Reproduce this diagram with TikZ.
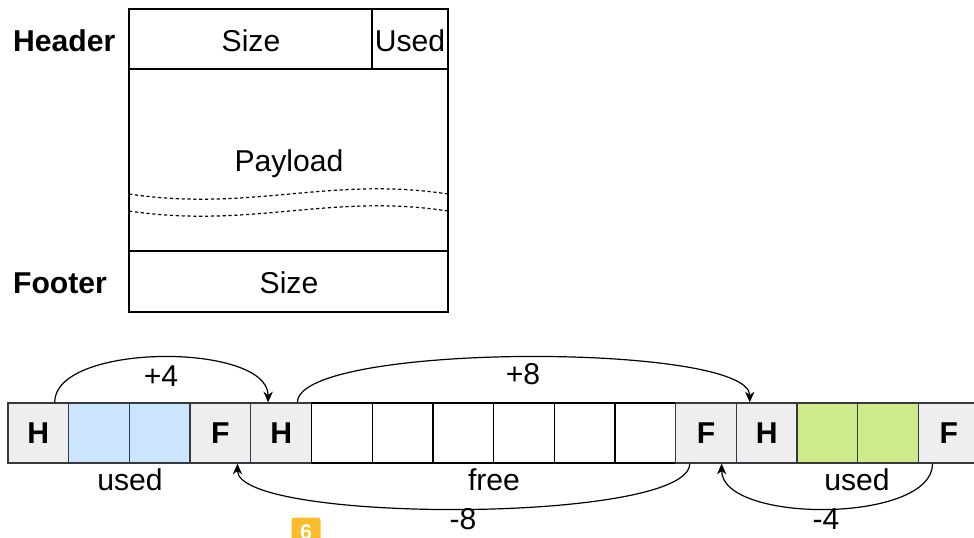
\documentclass[tikz,border=0pt]{standalone}
\usepackage{fontspec}
\setmainfont{Liberation Sans}
\usetikzlibrary{arrows.meta}
\definecolor{cellgrey}{HTML}{EEEEEE}
\definecolor{cellline}{HTML}{36393D}
\definecolor{usedblue}{HTML}{CCE5FF}
\definecolor{usedgreen}{HTML}{CDEB8B}
\definecolor{badgeorange}{HTML}{FBBC2C}
\begin{document}
\begin{tikzpicture}[x=0.75pt,y=-0.75pt,line width=1pt,
  every node/.style={font=\fontsize{22.6}{26}\selectfont},
  field/.style={draw,inner sep=0pt},
  cell/.style={draw=cellline,minimum width=45.5pt,minimum height=45pt,inner sep=0pt},
  tagcell/.style={cell,fill=cellgrey,font=\fontsize{22.6}{26}\selectfont\bfseries},
  bluecell/.style={cell,fill=usedblue},
  greencell/.style={cell,fill=usedgreen},
  freecell/.style={cell,draw=black},
  hop/.style={-{Stealth[length=8pt,width=7pt,inset=2.5pt]},line width=0.9pt}]
\useasboundingbox (0,0) rectangle (974,537);
% block layout
\node[font=\fontsize{22.6}{26}\selectfont\bfseries,anchor=west] (hdr) at (8,41) {Header};
\node[font=\fontsize{22.6}{26}\selectfont\bfseries,anchor=west] (ftr) at (8,283) {Footer};
\node[field,minimum width=182.25pt,minimum height=45pt] (hsize) at (250.5,39) {};
\node[field,minimum width=57pt,minimum height=45pt] (hused) at (410,39) {};
\node[field,minimum width=239.25pt,minimum height=136.5pt] (pay) at (288.5,160) {};
\node[field,minimum width=239.25pt,minimum height=45.75pt] (fsize) at (288.5,281.5) {};
\node (hsizetxt) at (251,40.5) {Size};
\node (husedtxt) at (410,40.5) {Used};
\node (paytxt) at (289,163.5) {Payload};
\node (fsizetxt) at (289,283) {Size};
\draw[dash pattern=on 2.4pt off 2pt,line width=0.9pt] (129,194) .. controls (250,212) and (330,176) .. (448,194);
\draw[dash pattern=on 2.4pt off 2pt,line width=0.9pt] (129,211) .. controls (250,229) and (330,193) .. (448,211);
% heap row
\node[tagcell] (h1) at (38.35,433) {H};
\node[bluecell] (u1) at (99.05,433) {};
\node[bluecell] (u2) at (159.75,433) {};
\node[tagcell] (f1) at (220.45,433) {F};
\node[tagcell] (h2) at (281.15,433) {H};
\node[freecell] (e1) at (341.85,433) {};
\node[freecell] (e2) at (402.55,433) {};
\node[freecell] (e3) at (463.25,433) {};
\node[freecell] (e4) at (523.95,433) {};
\node[freecell] (e5) at (584.65,433) {};
\node[freecell] (e6) at (645.35,433) {};
\node[tagcell] (f2) at (706.05,433) {F};
\node[tagcell] (h3) at (766.75,433) {H};
\node[greencell] (u3) at (827.45,433) {};
\node[greencell] (u4) at (888.15,433) {};
\node[tagcell] (f3) at (948.85,433) {F};
\node (lused1) at (130,479.5) {used};
\node (lfree) at (494,479.5) {free};
\node (lused2) at (857,479.5) {used};
% links
\draw[hop] (h1.62) .. controls +(0,-60) and +(0,-60) .. (h2.113);
\draw[hop] (h2.62) .. controls +(0,-60) and +(0,-60) .. (h3.119);
\draw[hop] (f2.-118) .. controls +(0,60) and +(0,60) .. (f1.-61);
\draw[hop] (f3.-118) .. controls +(0,60) and +(0,60) .. (f2.-63);
\node (p4) at (161,376) {+4};
\node (p8) at (523,374.5) {+8};
\node[inner sep=1pt] (m8) at (463,519.5) {-8};
\node[inner sep=1pt] (m4) at (826,519.5) {-4};
\node[fill=badgeorange,rounded corners=2pt,minimum size=21.75pt,inner sep=0pt,text=white,font=\fontsize{16}{18}\selectfont\bfseries] (badge) at (306,532) {6};
\end{tikzpicture}
\end{document}
